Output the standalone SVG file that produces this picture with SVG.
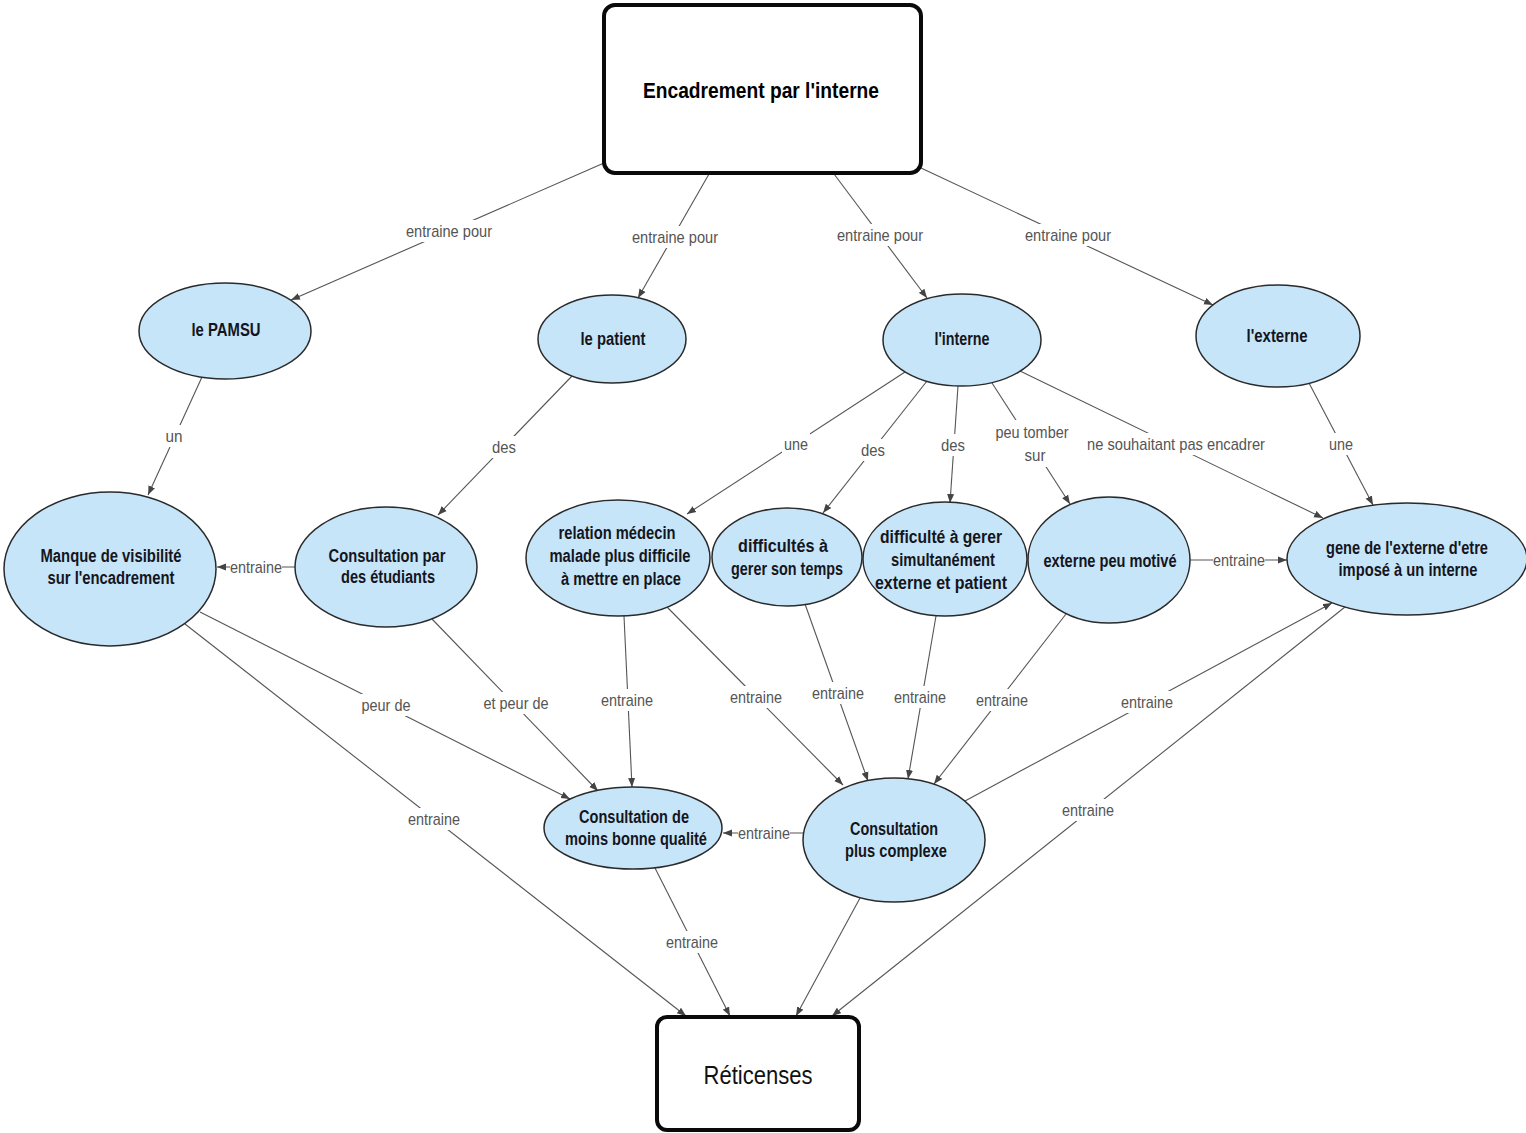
<svg xmlns="http://www.w3.org/2000/svg" width="1526" height="1133" viewBox="0 0 1526 1133">
<style>
.bg{fill:#ffffff}
.box{fill:#ffffff;stroke:#0a0a0a;stroke-width:4}
.ell{fill:#c6e5f9;stroke:#2a2a2a;stroke-width:1.5}
.edge{stroke:#555555;stroke-width:1.1;fill:none}
.arr{marker-end:url(#ah)}
.lbg{fill:#ffffff}
.lbl{font-family:"Liberation Sans",Arial,sans-serif;font-size:17px;fill:#555555;text-anchor:middle;dominant-baseline:central}
.nt{font-family:"Liberation Sans",Arial,sans-serif;font-size:18px;font-weight:bold;fill:#151520;text-anchor:middle;dominant-baseline:central}
.tt{font-family:"Liberation Sans",Arial,sans-serif;font-size:22px;font-weight:bold;fill:#000000;text-anchor:middle;dominant-baseline:central}
.bt{font-family:"Liberation Sans",Arial,sans-serif;font-size:26px;fill:#111111;text-anchor:middle;dominant-baseline:central}
</style>
<defs>
<marker id="ah" markerUnits="userSpaceOnUse" markerWidth="10" markerHeight="8" refX="9" refY="4" orient="auto">
<path d="M0,0.5 L9,4 L0,7.5 Z" fill="#444444"/>
</marker>
</defs>
<rect class="bg" x="0" y="0" width="1526" height="1133"/>

<g id="connectors">
<line class="edge arr" x1="604" y1="163" x2="291" y2="300"/>
<line class="edge arr" x1="709" y1="174" x2="638" y2="298"/>
<line class="edge arr" x1="834" y1="174" x2="927" y2="298"/>
<line class="edge arr" x1="921" y1="168" x2="1213" y2="305"/>
<line class="edge arr" x1="202" y1="377" x2="148" y2="495"/>
<line class="edge arr" x1="572" y1="376" x2="438" y2="515"/>
<line class="edge arr" x1="905" y1="372" x2="687" y2="514"/>
<line class="edge arr" x1="927" y1="381" x2="823" y2="513"/>
<line class="edge arr" x1="958" y1="386" x2="950" y2="503"/>
<line class="edge arr" x1="992" y1="383" x2="1070" y2="504"/>
<line class="edge arr" x1="1020" y1="371" x2="1323" y2="518"/>
<line class="edge arr" x1="1309" y1="383" x2="1373" y2="505"/>
<line class="edge arr" x1="295" y1="567" x2="217" y2="567"/>
<line class="edge arr" x1="1190" y1="560" x2="1287" y2="560"/>
<line class="edge arr" x1="200" y1="612" x2="570" y2="799"/>
<line class="edge arr" x1="432" y1="619" x2="598" y2="791"/>
<line class="edge arr" x1="624" y1="616" x2="632" y2="787"/>
<line class="edge arr" x1="667" y1="607" x2="843" y2="785"/>
<line class="edge arr" x1="805" y1="604" x2="868" y2="781"/>
<line class="edge arr" x1="936" y1="616" x2="908" y2="779"/>
<line class="edge arr" x1="1066" y1="614" x2="934" y2="784"/>
<line class="edge arr" x1="965" y1="801" x2="1332" y2="603"/>
<line class="edge arr" x1="1345" y1="607" x2="832" y2="1016"/>
<line class="edge arr" x1="185" y1="624" x2="686" y2="1016"/>
<line class="edge arr" x1="803" y1="833" x2="723" y2="833"/>
<line class="edge arr" x1="655" y1="868" x2="730" y2="1016"/>
<line class="edge arr" x1="860" y1="898" x2="796" y2="1016"/>

<rect class="lbg" x="404" y="220" width="90" height="22"/>
<rect class="lbg" x="630" y="226" width="90" height="22"/>
<rect class="lbg" x="835" y="224" width="90" height="22"/>
<rect class="lbg" x="1023" y="224" width="90" height="22"/>
<rect class="lbg" x="163" y="425" width="23" height="22"/>
<rect class="lbg" x="490" y="436" width="28" height="22"/>
<rect class="lbg" x="782" y="433" width="28" height="22"/>
<rect class="lbg" x="859" y="439" width="28" height="22"/>
<rect class="lbg" x="939" y="434" width="28" height="22"/>
<rect class="lbg" x="994" y="420" width="77" height="47"/>
<rect class="lbg" x="1085" y="433" width="182" height="22"/>
<rect class="lbg" x="1327" y="433" width="28" height="22"/>
<rect class="lbg" x="230" y="556" width="52" height="22"/>
<rect class="lbg" x="1213" y="549" width="52" height="22"/>
<rect class="lbg" x="360" y="694" width="53" height="22"/>
<rect class="lbg" x="482" y="692" width="69" height="22"/>
<rect class="lbg" x="599" y="689" width="56" height="22"/>
<rect class="lbg" x="728" y="686" width="56" height="22"/>
<rect class="lbg" x="810" y="682" width="56" height="22"/>
<rect class="lbg" x="892" y="686" width="56" height="22"/>
<rect class="lbg" x="974" y="689" width="56" height="22"/>
<rect class="lbg" x="1119" y="691" width="56" height="22"/>
<rect class="lbg" x="1060" y="799" width="56" height="22"/>
<rect class="lbg" x="406" y="808" width="56" height="22"/>
<rect class="lbg" x="738" y="822" width="52" height="22"/>
<rect class="lbg" x="664" y="931" width="56" height="22"/>

<text class="lbl" x="449" y="231" textLength="86" lengthAdjust="spacingAndGlyphs">entraine pour</text>
<text class="lbl" x="675" y="237" textLength="86" lengthAdjust="spacingAndGlyphs">entraine pour</text>
<text class="lbl" x="880" y="235" textLength="86" lengthAdjust="spacingAndGlyphs">entraine pour</text>
<text class="lbl" x="1068" y="235" textLength="86" lengthAdjust="spacingAndGlyphs">entraine pour</text>
<text class="lbl" x="174" y="436" textLength="17" lengthAdjust="spacingAndGlyphs">un</text>
<text class="lbl" x="504" y="447" textLength="24" lengthAdjust="spacingAndGlyphs">des</text>
<text class="lbl" x="796" y="444" textLength="24" lengthAdjust="spacingAndGlyphs">une</text>
<text class="lbl" x="873" y="450" textLength="24" lengthAdjust="spacingAndGlyphs">des</text>
<text class="lbl" x="953" y="445" textLength="24" lengthAdjust="spacingAndGlyphs">des</text>
<text class="lbl" x="1032" y="432" textLength="73" lengthAdjust="spacingAndGlyphs">peu tomber</text>
<text class="lbl" x="1035" y="455" textLength="21" lengthAdjust="spacingAndGlyphs">sur</text>
<text class="lbl" x="1176" y="444" textLength="178" lengthAdjust="spacingAndGlyphs">ne souhaitant pas encadrer</text>
<text class="lbl" x="1341" y="444" textLength="24" lengthAdjust="spacingAndGlyphs">une</text>
<text class="lbl" x="256" y="567" textLength="52" lengthAdjust="spacingAndGlyphs">entraine</text>
<text class="lbl" x="1239" y="560" textLength="52" lengthAdjust="spacingAndGlyphs">entraine</text>
<text class="lbl" x="386" y="705" textLength="49" lengthAdjust="spacingAndGlyphs">peur de</text>
<text class="lbl" x="516" y="703" textLength="65" lengthAdjust="spacingAndGlyphs">et peur de</text>
<text class="lbl" x="627" y="700" textLength="52" lengthAdjust="spacingAndGlyphs">entraine</text>
<text class="lbl" x="756" y="697" textLength="52" lengthAdjust="spacingAndGlyphs">entraine</text>
<text class="lbl" x="838" y="693" textLength="52" lengthAdjust="spacingAndGlyphs">entraine</text>
<text class="lbl" x="920" y="697" textLength="52" lengthAdjust="spacingAndGlyphs">entraine</text>
<text class="lbl" x="1002" y="700" textLength="52" lengthAdjust="spacingAndGlyphs">entraine</text>
<text class="lbl" x="1147" y="702" textLength="52" lengthAdjust="spacingAndGlyphs">entraine</text>
<text class="lbl" x="1088" y="810" textLength="52" lengthAdjust="spacingAndGlyphs">entraine</text>
<text class="lbl" x="434" y="819" textLength="52" lengthAdjust="spacingAndGlyphs">entraine</text>
<text class="lbl" x="764" y="833" textLength="52" lengthAdjust="spacingAndGlyphs">entraine</text>
<text class="lbl" x="692" y="942" textLength="52" lengthAdjust="spacingAndGlyphs">entraine</text>
</g>

<g id="node-encadrement">
<rect class="box" x="604" y="5" width="317" height="168" rx="11"/>
<text class="tt" x="761" y="90" textLength="236" lengthAdjust="spacingAndGlyphs">Encadrement par l'interne</text>
</g>
<g id="node-pamsu">
<ellipse class="ell" cx="225" cy="331" rx="86" ry="48"/>
<text class="nt" x="226" y="330" textLength="69" lengthAdjust="spacingAndGlyphs">le PAMSU</text>
</g>
<g id="node-patient">
<ellipse class="ell" cx="612" cy="339" rx="74" ry="44"/>
<text class="nt" x="613" y="339" textLength="65" lengthAdjust="spacingAndGlyphs">le patient</text>
</g>
<g id="node-interne">
<ellipse class="ell" cx="962" cy="340" rx="79" ry="46"/>
<text class="nt" x="962" y="339" textLength="55" lengthAdjust="spacingAndGlyphs">l'interne</text>
</g>
<g id="node-externe">
<ellipse class="ell" cx="1278" cy="336" rx="82" ry="51"/>
<text class="nt" x="1277" y="336" textLength="61" lengthAdjust="spacingAndGlyphs">l'externe</text>
</g>
<g id="node-manque">
<ellipse class="ell" cx="110" cy="569" rx="106" ry="77"/>
<text class="nt" x="111" y="556" textLength="141" lengthAdjust="spacingAndGlyphs">Manque de visibilité</text>
<text class="nt" x="111" y="578" textLength="127" lengthAdjust="spacingAndGlyphs">sur l'encadrement</text>
</g>
<g id="node-consultation-etudiants">
<ellipse class="ell" cx="386" cy="567" rx="91" ry="60"/>
<text class="nt" x="387" y="556" textLength="117" lengthAdjust="spacingAndGlyphs">Consultation par</text>
<text class="nt" x="388" y="577" textLength="94" lengthAdjust="spacingAndGlyphs">des étudiants</text>
</g>
<g id="node-relation">
<ellipse class="ell" cx="618" cy="558" rx="92" ry="58"/>
<text class="nt" x="617" y="533" textLength="117" lengthAdjust="spacingAndGlyphs">relation médecin</text>
<text class="nt" x="620" y="556" textLength="141" lengthAdjust="spacingAndGlyphs">malade plus difficile</text>
<text class="nt" x="621" y="579" textLength="120" lengthAdjust="spacingAndGlyphs">à mettre en place</text>
</g>
<g id="node-difficultes-temps">
<ellipse class="ell" cx="787" cy="557" rx="75" ry="49"/>
<text class="nt" x="783" y="546" textLength="90" lengthAdjust="spacingAndGlyphs">difficultés à</text>
<text class="nt" x="787" y="569" textLength="112" lengthAdjust="spacingAndGlyphs">gerer son temps</text>
</g>
<g id="node-difficulte-simultane">
<ellipse class="ell" cx="945" cy="559" rx="82" ry="57"/>
<text class="nt" x="941" y="537" textLength="122" lengthAdjust="spacingAndGlyphs">difficulté à gerer</text>
<text class="nt" x="943" y="560" textLength="104" lengthAdjust="spacingAndGlyphs">simultanément</text>
<text class="nt" x="941" y="583" textLength="132" lengthAdjust="spacingAndGlyphs">externe et patient</text>
</g>
<g id="node-externe-peu-motive">
<ellipse class="ell" cx="1109" cy="560" rx="81" ry="63"/>
<text class="nt" x="1110" y="561" textLength="133" lengthAdjust="spacingAndGlyphs">externe peu motivé</text>
</g>
<g id="node-gene">
<ellipse class="ell" cx="1407" cy="559" rx="120" ry="56"/>
<text class="nt" x="1407" y="548" textLength="162" lengthAdjust="spacingAndGlyphs">gene de l'externe d'etre</text>
<text class="nt" x="1408" y="570" textLength="139" lengthAdjust="spacingAndGlyphs">imposé à un interne</text>
</g>
<g id="node-moins-bonne">
<ellipse class="ell" cx="633" cy="828" rx="89" ry="41"/>
<text class="nt" x="634" y="817" textLength="110" lengthAdjust="spacingAndGlyphs">Consultation de</text>
<text class="nt" x="636" y="839" textLength="142" lengthAdjust="spacingAndGlyphs">moins bonne qualité</text>
</g>
<g id="node-plus-complexe">
<ellipse class="ell" cx="894" cy="840" rx="91" ry="62"/>
<text class="nt" x="894" y="829" textLength="88" lengthAdjust="spacingAndGlyphs">Consultation</text>
<text class="nt" x="896" y="851" textLength="102" lengthAdjust="spacingAndGlyphs">plus complexe</text>
</g>
<g id="node-reticenses">
<rect class="box" x="657" y="1017" width="202" height="113" rx="10"/>
<text class="bt" x="758" y="1075" textLength="109" lengthAdjust="spacingAndGlyphs">Réticenses</text>
</g>
</svg>
